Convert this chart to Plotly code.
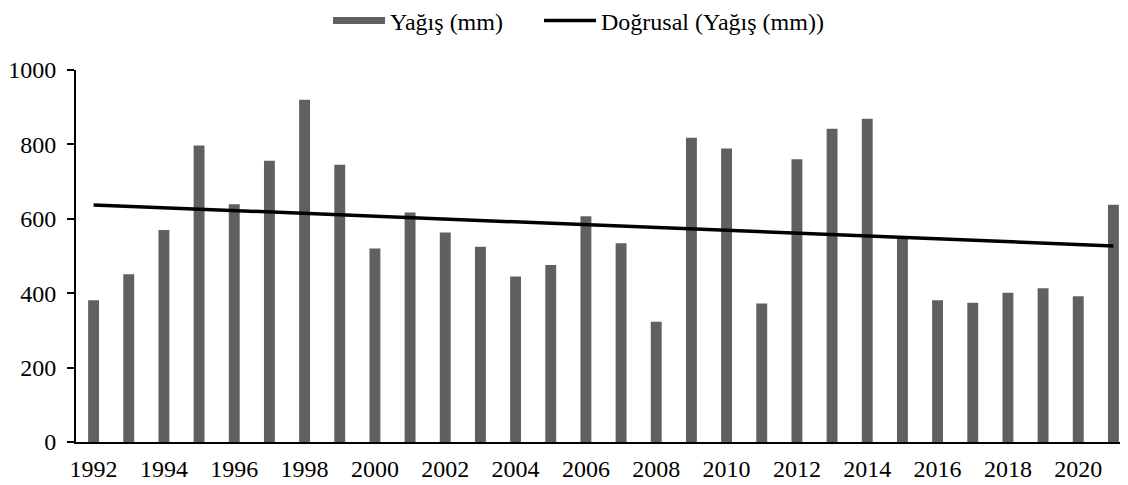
import numpy as np
import plotly.graph_objects as go

years = list(range(1992, 2022))
rain = [381, 451, 570, 797, 639, 756, 920, 745, 520, 617,
        563, 525, 445, 476, 607, 534, 323, 818, 789, 372,
        760, 842, 869, 549, 381, 374, 401, 413, 392, 638]
y_ticks = [0, 200, 400, 600, 800, 1000]
x_ticks = list(range(1992, 2021, 2))

slope, intercept = np.polyfit(years, rain, 1)
trend_x = [years[0], years[-1]]
trend_y = [slope * x + intercept for x in trend_x]

FONT = "Liberation Serif, Times New Roman, serif"
FS = 24
BAR_COLOR = "#606060"

fig = go.Figure()
fig.add_trace(go.Bar(x=years, y=rain, width=0.31, marker=dict(color=BAR_COLOR, line=dict(width=0)),
                     name="Yağış (mm)", showlegend=False))
fig.add_trace(go.Scatter(x=[None], y=[None], mode="lines", line=dict(color=BAR_COLOR, width=7),
                         name="Yağış (mm)", legend="legend"))
fig.add_trace(go.Scatter(x=trend_x, y=trend_y, mode="lines", line=dict(color="black", width=3.5),
                         name="Doğrusal (Yağış (mm))", legend="legend2"))

leg_common = dict(orientation="h", yanchor="middle", y=1.132, xanchor="left",
                  font=dict(family=FONT, size=FS, color="black"), itemwidth=52,
                  bgcolor="rgba(0,0,0,0)")

fig.update_layout(
    width=1128, height=485,
    margin=dict(l=68, r=5, t=62, b=51, autoexpand=False),
    paper_bgcolor="white", plot_bgcolor="white",
    font=dict(family=FONT, size=FS, color="black"),
    showlegend=True,
    legend=dict(x=0.2389, **leg_common),
    legend2=dict(x=0.4389, **leg_common),
    xaxis=dict(range=[1991.5, 2021.5], tickmode="array", tickvals=x_ticks,
               ticktext=[str(t) for t in x_ticks], showgrid=False, zeroline=False,
               showline=True, linecolor="black", linewidth=2, ticks="", ticklen=0,
               ticklabelstandoff=4, tickfont=dict(family=FONT, size=FS)),
    yaxis=dict(range=[0, 1000], tickmode="array", tickvals=y_ticks,
               ticktext=[str(t) for t in y_ticks], showgrid=False, zeroline=False,
               showline=True, linecolor="black", linewidth=2, ticks="outside", ticklen=7,
               tickwidth=2, tickcolor="black", ticklabelstandoff=6,
               tickfont=dict(family=FONT, size=FS)),
)

fig.write_html("out.html")
